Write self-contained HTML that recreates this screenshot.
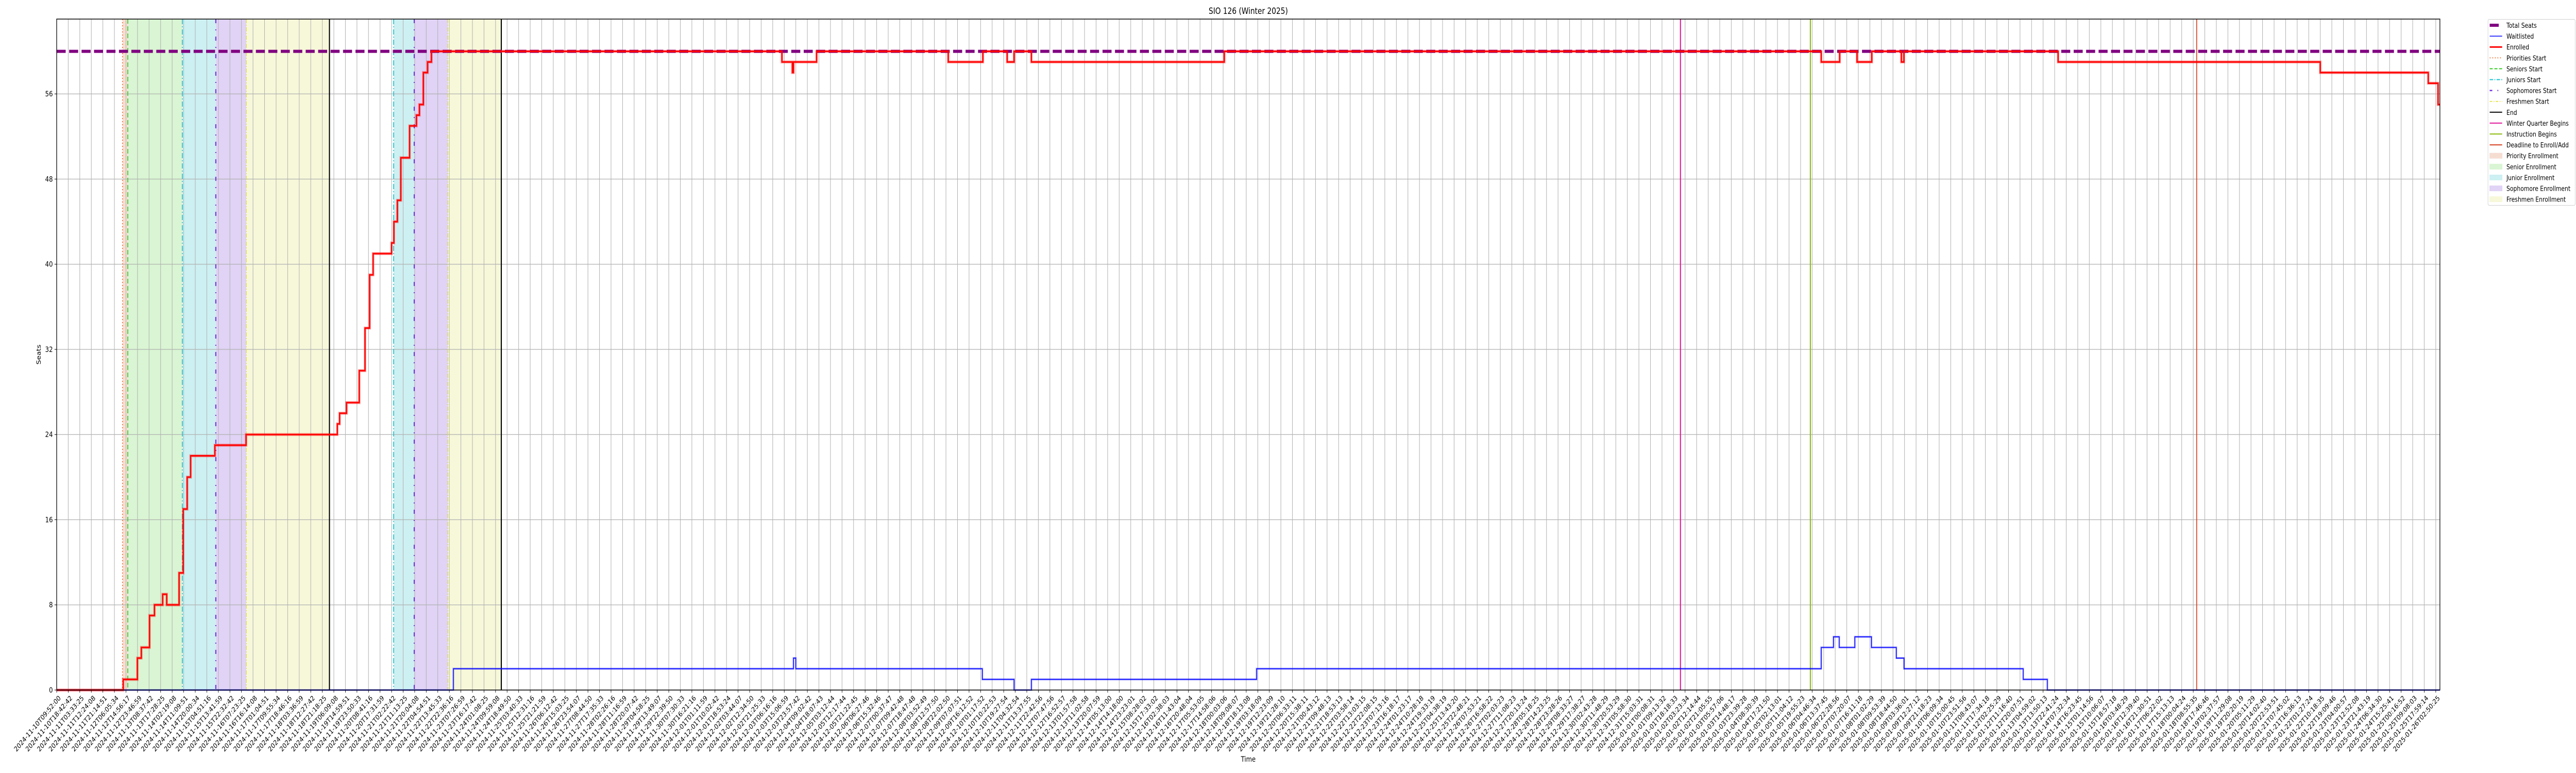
<!DOCTYPE html>
<html><head><meta charset="utf-8"><style>
html,body{margin:0;padding:0;background:#fff;width:100%;height:100%;overflow:hidden;}
svg{display:block;overflow:hidden;width:100vw;height:100vh;font-family:"DejaVu Sans","Liberation Sans",sans-serif;}
</style></head><body>
<svg id="chart" viewBox="0 0 6000 1500" preserveAspectRatio="none" xmlns="http://www.w3.org/2000/svg">
<defs><clipPath id="pageclip"><rect x="0" y="0" width="6000" height="1500"/></clipPath></defs>
<g clip-path="url(#pageclip)">
<rect width="6000" height="1500" fill="#fff"/>
<g id="spans"></g><g id="grid"></g><g id="events"></g><g id="series"></g><g id="axes"></g><g id="legend"></g>
</g>
</svg>
<script>
// ---- data ----
const totalSeats = 60;
const enrolledT = [0,5.76,6.99,7.33,8.04,8.47,9.18,9.53,10.6,10.96,11.3,11.6,13.7,16.4,24.3,24.5,25.1,26.2,26.7,27.1,27.4,29.0,29.2,29.5,29.8,30.56,31.15,31.41,31.75,32.12,32.45,62.8,63.7,63.8,65.8,77.2,80.2,82.3,82.9,84.4,101.1,152.79,154.39,155.89,157.17,159.73,159.95,173.3,196.0,205.35,206.2];
const enrolledV = [0,1,3,4,7,8,9,8,11,17,20,22,23,24,25,26,27,30,34,39,41,42,44,46,50,53,54,55,58,59,60,59,58,59,60,59,60,59,60,59,60,59,60,59,60,59,60,59,58,57,55];
const waitT = [0,34.35,63.8,64.0,80.15,82.9,84.4,103.9,152.79,153.85,154.35,155.7,157.14,159.29,159.96,170.28,172.37];
const waitV = [0,2,3,2,1,0,1,2,4,5,4,5,4,3,2,1,0];
const spanNames = ['priority','senior','junior','sophomore','freshmen','junior','sophomore','freshmen'];
const spanStart = [5.7,6.16,10.88,13.78,16.42,29.18,30.96,33.88];
const spanEnd   = [6.16,10.88,13.78,16.42,23.62,30.96,33.88,38.5];
const eventNames = ['priorities-start','seniors-start','juniors-start','sophomores-start','freshmen-start','end','juniors-start','sophomores-start','freshmen-start','end','winter-quarter-begins','instruction-begins','deadline-to-enroll'];
const eventT = [5.7,6.16,10.88,13.78,16.42,23.62,29.18,30.96,33.88,38.5,140.6,151.85,185.3];
const yTicks = [0,8,16,24,32,40,48,56];
const tickAnchorIdx = [0,64,141,206];
const tickAnchorTime = ['2024-11-10T09:52:00','2024-12-03T23:57:42','2025-01-02T03:23:34','2025-01-26T02:50:25'];

// ---- layout ----
const L=132, R=5683, T=37, B=1339, XMAX=206.36, YMAX=63.03;
const NS='http://www.w3.org/2000/svg';
const xs = t => L + t/XMAX*(R-L);
const ys = v => B - v/YMAX*(B-T);
function mk(tag, attrs, parent){const e=document.createElementNS(NS,tag);for(const k in attrs)e.setAttribute(k,attrs[k]);parent.appendChild(e);return e;}
const gSp=document.getElementById('spans'),gGr=document.getElementById('grid'),gEv=document.getElementById('events'),gSe=document.getElementById('series'),gAx=document.getElementById('axes'),gLg=document.getElementById('legend');

const spanColor={priority:'#f6ddd2',senior:'#d9f5d3',junior:'#cdf0f2',sophomore:'#e0d3f5',freshmen:'#f7f8d9'};
spanNames.forEach((n,i)=>{
  const r=mk('rect',{x:xs(spanStart[i]),y:T,width:xs(spanEnd[i])-xs(spanStart[i]),height:B-T,fill:spanColor[n]},gSp);
  
  
});

// grid & ticks
const tickLabels=[];
const nT=207;
for(let i=0;i<nT;i++){
  let s=0; while(s<tickAnchorIdx.length-2 && i>tickAnchorIdx[s+1]) s++;
  const a=Date.parse(tickAnchorTime[s]+'Z'), b=Date.parse(tickAnchorTime[s+1]+'Z');
  const f=(i-tickAnchorIdx[s])/(tickAnchorIdx[s+1]-tickAnchorIdx[s]);
  tickLabels.push(new Date(a+(b-a)*f).toISOString().slice(0,19));
}
const tickStep = 26.9/((R-L)/XMAX);
tickLabels.forEach((lab,i)=>{
  const x=xs(i*tickStep);
  const gl=mk('line',{x1:x,x2:x,y1:T,y2:B,stroke:'#b0b0b0','stroke-width':1.2},gGr);
  
  
  const tk=mk('line',{x1:x,x2:x,y1:B,y2:B+5,stroke:'#000','stroke-width':1},gAx);
  
  
  const tx=mk('text',{transform:`translate(${x+3},${B+9}) rotate(-45)`,'text-anchor':'end','font-size':13.5,'dominant-baseline':'hanging',fill:'#000'},gAx);
  tx.textContent=lab;
  
  
});
yTicks.forEach(v=>{
  const y=ys(v);
  const gl=mk('line',{x1:L,x2:R,y1:y,y2:y,stroke:'#b0b0b0','stroke-width':1.2},gGr);
  
  
  const tk=mk('line',{x1:L-5,x2:L,y1:y,y2:y,stroke:'#000','stroke-width':1},gAx);
  
  
  const tx=mk('text',{x:L-9,y:y+5,'text-anchor':'end','font-size':14,fill:'#000'},gAx);
  tx.textContent=v;
  
  
});

// event lines
const evStyle={
 'priorities-start':{stroke:'#f07030',dash:'2 4',w:2},
 'seniors-start':{stroke:'#33cc22',dash:'9 5',w:2},
 'juniors-start':{stroke:'#17c3cf',dash:'10 4 2 4',w:2},
 'sophomores-start':{stroke:'#7030e0',dash:'8 12 2 12',w:2.5},
 'freshmen-start':{stroke:'#dede30',dash:'8 3 2 3',w:1.5},
 'end':{stroke:'#000',dash:'',w:2.5},
 'winter-quarter-begins':{stroke:'#e0189a',dash:'',w:2.5},
 'instruction-begins':{stroke:'#8cbc10',dash:'',w:2.5},
 'deadline-to-enroll':{stroke:'#d44020',dash:'',w:2}
};
eventNames.forEach((n,i)=>{
  const s=evStyle[n],x=xs(eventT[i]);
  const ln=mk('line',{x1:x,x2:x,y1:T,y2:B,stroke:s.stroke,'stroke-width':s.w,'stroke-dasharray':s.dash},gEv);
  
  
});

// total seats
const ts=mk('line',{x1:L,x2:R,y1:ys(totalSeats),y2:ys(totalSeats),stroke:'#800080','stroke-width':6,'stroke-dasharray':'21 8'},gSe);



function stepPath(tt,vv){
  let d=`M${xs(tt[0])},${ys(vv[0])}`;
  for(let i=1;i<tt.length;i++){d+=` H${xs(tt[i])} V${ys(vv[i])}`;}
  d+=` H${xs(XMAX)}`;return d;
}
const wd=stepPath(waitT,waitV);
const wh=mk('path',{d:wd,fill:'none',stroke:'#0000ff','stroke-opacity':0.3,'stroke-width':4},gSe);


const wl=mk('path',{d:wd,fill:'none',stroke:'#0000ff','stroke-width':1.6},gSe);


const ed=stepPath(enrolledT,enrolledV);
const eh=mk('path',{d:ed,fill:'none',stroke:'#ff0000','stroke-opacity':0.3,'stroke-width':6},gSe);


const el=mk('path',{d:ed,fill:'none',stroke:'#ff0000','stroke-width':3},gSe);



// frame & titles
const fr=mk('rect',{x:L,y:T,width:R-L,height:B-T,fill:'none',stroke:'#000','stroke-width':1.5},gAx);


const tt=mk('text',{x:(L+R)/2,y:27,'text-anchor':'middle','font-size':16.5,fill:'#000'},gAx);
tt.textContent='SIO 126 (Winter 2025)';


const yl=mk('text',{transform:`translate(95,${(T+B)/2}) rotate(-90)`,'text-anchor':'middle','font-size':14,fill:'#000'},gAx);
yl.textContent='Seats';


const xl=mk('text',{x:(L+R)/2,y:1478,'text-anchor':'middle','font-size':14,fill:'#000'},gAx);
xl.textContent='Time';



// legend
const lb=mk('rect',{x:5795,y:37.5,width:203,height:361,rx:3,fill:'#fff',stroke:'#d0d0d0','stroke-width':1},gLg);


const legendLabels=['Total Seats','Waitlisted','Enrolled','Priorities Start','Seniors Start','Juniors Start','Sophomores Start','Freshmen Start','End','Winter Quarter Begins','Instruction Begins','Deadline to Enroll/Add','Priority Enrollment','Senior Enrollment','Junior Enrollment','Sophomore Enrollment','Freshmen Enrollment'];
const legendKind=[
 {c:'#800080',w:6,d:''},{c:'#0000ff',w:1.5,d:''},{c:'#ff0000',w:3,d:''},
 {c:'#f07030',w:2,d:'2 4'},{c:'#33cc22',w:2,d:'7 4'},{c:'#17c3cf',w:2,d:'8 3 2 3'},{c:'#7030e0',w:2.5,d:'6 12 2 12'},{c:'#dede30',w:1.5,d:'6 3 2 3'},
 {c:'#000',w:2,d:''},{c:'#e0189a',w:2,d:''},{c:'#8cbc10',w:2,d:''},{c:'#d44020',w:2,d:''},
 {f:'#f6ddd2'},{f:'#d9f5d3'},{f:'#cdf0f2'},{f:'#e0d3f5'},{f:'#f7f8d9'}];
legendLabels.forEach((lab,i)=>{
  const y=49+i*21.1,k=legendKind[i];
  const g=mk('g',{},gLg);
  
  
  if(k.f) mk('rect',{x:5799,y:y-5,width:29,height:10,fill:k.f,stroke:k.f},g);
  else mk('line',{x1:5799,x2:i===0?5820:5828,y1:y,y2:y,stroke:k.c,'stroke-width':k.w,'stroke-dasharray':k.d},g);
  const t=mk('text',{x:5838,y:y+5,'font-size':13,fill:'#000'},g);
  t.textContent=lab;
  if(t.getComputedTextLength && t.getComputedTextLength()>156){t.setAttribute('textLength',156);t.setAttribute('lengthAdjust','spacingAndGlyphs');}
});
</script>
</body></html>
